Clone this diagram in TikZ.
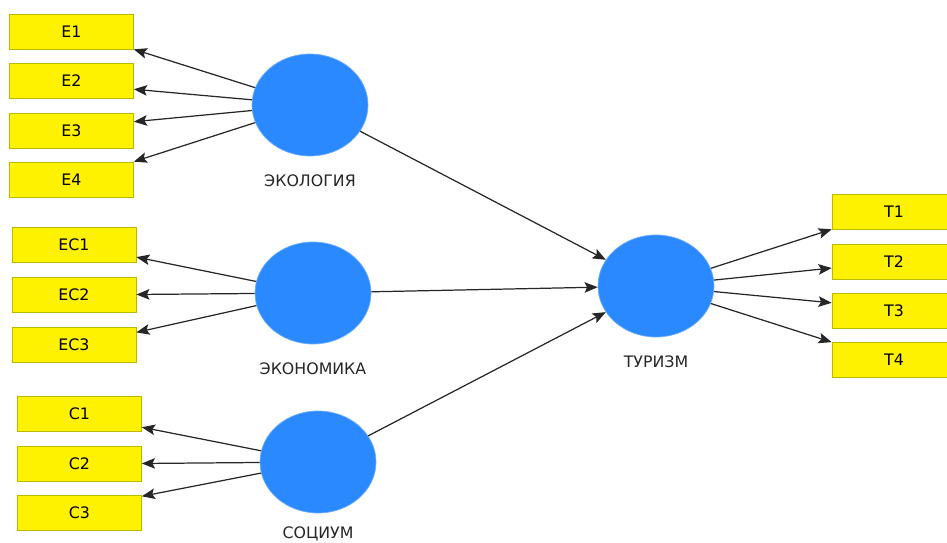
\documentclass[tikz,border=0pt]{standalone}
\usepackage{fontspec}
\setmainfont{DejaVu Sans}
\usepackage{tikz}
\usetikzlibrary{arrows.meta,positioning,shapes.geometric}
\definecolor{latblue}{RGB}{43,137,255}
\definecolor{boxline}{RGB}{185,185,0}

\begin{document}
\begin{tikzpicture}[x=0.02cm, y=-0.02cm, >={Stealth[length=7.5pt,width=6pt,inset=1.5pt]},
  ind/.style={rectangle, draw=boxline, fill=yellow, minimum width=2.48cm,
    minimum height=0.7cm, inner sep=0pt, font=\fontsize{9}{10.8}\selectfont},
  lat/.style={ellipse, fill=latblue, draw=latblue!70, minimum width=2.32cm,
    minimum height=2.04cm, inner sep=0pt},
  lbl/.style={font=\fontsize{9}{10.8}\selectfont, text=black!85},
  link/.style={->, black!85, line width=0.7pt}]
\clip (0,0) rectangle (947,543);
% latent variables
\node[lat] (eco) at (310,105) {};
\node[lat] (econ) at (313,293) {};
\node[lat] (soc) at (318,462) {};
\node[lat] (tur) at (656,286) {};
\node[lbl, below=0.24cm of eco] (ecol) {ЭКОЛОГИЯ};
\node[lbl, below=0.24cm of econ] (econl) {ЭКОНОМИКА};
\node[lbl, below=0.15cm of soc] (socl) {СОЦИУМ};
\node[lbl, below=0.24cm of tur] (turl) {ТУРИЗМ};
% indicators
\node[ind] (e1) at (71.5,31.5) {E1};
\node[ind] (e2) at (71.5,80.5) {E2};
\node[ind] (e3) at (71.5,130.5) {E3};
\node[ind] (e4) at (71.5,179.5) {E4};
\node[ind] (ec1) at (74,245) {EC1};
\node[ind] (ec2) at (74,294.5) {EC2};
\node[ind] (ec3) at (74,344.5) {EC3};
\node[ind] (c1) at (79.5,414) {C1};
\node[ind] (c2) at (79.5,463.5) {C2};
\node[ind] (c3) at (79.5,513) {C3};
\node[ind] (t1) at (894,211.5) {T1};
\node[ind] (t2) at (894,261.5) {T2};
\node[ind] (t3) at (894,310.5) {T3};
\node[ind] (t4) at (894,360) {T4};
% outer model
\draw[link] (eco) -- (e1.south east);
\draw[link] (eco) -- (e2.-8);
\draw[link] (eco) -- (e3.8);
\draw[link] (eco) -- (e4.north east);
\draw[link] (econ) -- (ec1.-11);
\draw[link] (econ) -- (ec2.east);
\draw[link] (econ) -- (ec3.11);
\draw[link] (soc) -- (c1.-12);
\draw[link] (soc) -- (c2.east);
\draw[link] (soc) -- (c3.15);
\draw[link] (tur) -- (t1.south west);
\draw[link] (tur) -- (t2.186);
\draw[link] (tur) -- (t3.173);
\draw[link] (tur) -- (t4.north west);
% inner model
\draw[link] (eco) -- (tur);
\draw[link] (econ) -- (tur);
\draw[link] (soc) -- (tur);
\end{tikzpicture}
\end{document}
